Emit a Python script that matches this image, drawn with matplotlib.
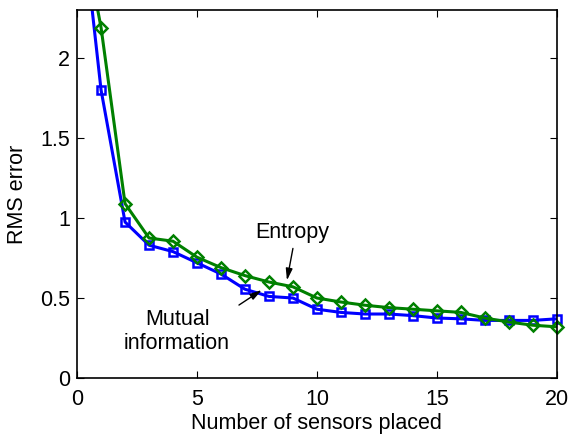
import matplotlib
matplotlib.use('Agg')
import matplotlib.pyplot as plt

plt.rcParams['font.family'] = ['Liberation Sans', 'DejaVu Sans']

# Number of sensors placed
sensors = list(range(0, 21))

# RMS error for each selection criterion
mutual_info = [3.15, 1.80, 0.975, 0.83, 0.79, 0.72, 0.65, 0.555, 0.51, 0.50, 0.43,
               0.41, 0.40, 0.40, 0.39, 0.375, 0.37, 0.36, 0.36, 0.36, 0.37]
entropy = [2.98, 2.19, 1.09, 0.875, 0.855, 0.755, 0.69, 0.64, 0.60, 0.57, 0.50,
           0.475, 0.455, 0.44, 0.43, 0.42, 0.41, 0.375, 0.35, 0.33, 0.32]

fs = 15.5

fig = plt.figure(figsize=(5.71, 4.36), dpi=100)
ax = fig.add_axes([0.135, 0.133, 0.84, 0.844])

# lines clipped to the box, markers (inside the y range) drawn unclipped
ax.plot(sensors, mutual_info, color='#0000ff', lw=2.2)
ax.plot(sensors[1:], mutual_info[1:], ls='none', color='#0000ff', marker='s',
        ms=5.5, mfc='none', mew=1.8, clip_on=False)
ax.plot(sensors, entropy, color='#008000', lw=2.2)
ax.plot(sensors[1:], entropy[1:], ls='none', color='#008000', marker='D',
        ms=6, mfc='none', mew=1.8, clip_on=False)

# Labels with arrows
arrow = dict(arrowstyle='-|>,head_length=0.7,head_width=0.2', color='black',
             lw=1, shrinkA=0, shrinkB=0)
ax.annotate('', xy=(8.75, 0.61), xytext=(9.0, 0.81), arrowprops=arrow)
ax.text(8.96, 0.91, 'Entropy', ha='center', va='center', fontsize=fs)
ax.annotate('', xy=(7.7, 0.55), xytext=(6.75, 0.456), arrowprops=arrow)
ax.text(4.17, 0.29, 'Mutual\ninformation', ha='center', va='center',
        fontsize=fs, linespacing=1.15)

ax.set_xlim(0, 20)
ax.set_ylim(0, 2.3)
ax.set_xticks([0, 5, 10, 15, 20])
ax.set_yticks([0, 0.5, 1, 1.5, 2])
ax.set_yticklabels(['0', '0.5', '1', '1.5', '2'])
ax.tick_params(direction='in', top=True, right=True, labelsize=fs, length=5, pad=5)
ax.tick_params(axis='x', pad=8)
for s in ax.spines.values():
    s.set_linewidth(1.2)

ax.set_xlabel('Number of sensors placed', fontsize=fs, labelpad=2)
ax.set_ylabel('RMS error', fontsize=fs, labelpad=9)

fig.savefig('out.png', dpi=100)
